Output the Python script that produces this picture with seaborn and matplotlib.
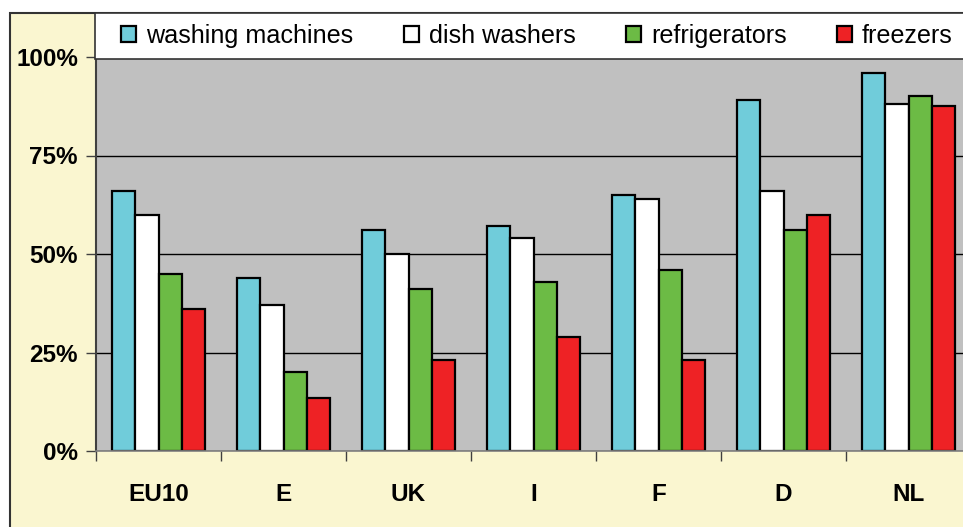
import matplotlib
matplotlib.use("Agg")
import matplotlib.pyplot as plt
import numpy as np
import pandas as pd
import seaborn as sns
from matplotlib.patches import Rectangle
from matplotlib.ticker import FixedLocator, PercentFormatter

countries = ["EU10", "E", "UK", "I", "F", "D", "NL"]
washing_machines = [66, 44, 56, 57, 65, 89, 96]
dish_washers = [60, 37, 50, 54, 64, 66, 88]
refrigerators = [45, 20, 41, 43, 46, 56, 90]
freezers = [36, 13.5, 23, 29, 23, 60, 87.5]
y_ticks = [0, 25, 50, 75, 100]

PALETTE = {
    "washing machines": "#70CCDA",
    "dish washers": "#FFFFFF",
    "refrigerators": "#6CBB45",
    "freezers": "#EE2225",
}

series = {
    "washing machines": washing_machines,
    "dish washers": dish_washers,
    "refrigerators": refrigerators,
    "freezers": freezers,
}
rows = []
for name, vals in series.items():
    for c, v in zip(countries, vals):
        rows.append({"country": c, "appliance": name, "share": v})
df = pd.DataFrame(rows)

sns.set_theme(style="ticks")
plt.rcParams["font.family"] = ["Liberation Sans", "DejaVu Sans"]

W, H = 963, 527
fig = plt.figure(figsize=(W / 100, H / 100), dpi=100, facecolor="white")

# pale yellow chart area with dark frame on left/top
fig.add_artist(Rectangle((10 / W, -0.02), 1.05, (H - 13) / H + 0.02, transform=fig.transFigure,
                         facecolor="#FAF6D0", edgecolor="#333333", linewidth=1.5, zorder=-1))

ax = fig.add_axes([96 / W, (H - 451) / H, 875 / W, 394 / H])
ax.set_facecolor("#C0C0C0")

sns.barplot(data=df, x="country", y="share", hue="appliance", palette=PALETTE, order=countries,
            hue_order=list(series), width=0.74, gap=0, saturation=1, edgecolor="black",
            linewidth=1.6, ax=ax)

ax.set_xlim(-0.5, len(countries) - 0.5)
ax.set_ylim(0, 100)
ax.yaxis.set_major_locator(FixedLocator(y_ticks))
ax.yaxis.set_major_formatter(PercentFormatter(decimals=0))
ax.yaxis.grid(True, color="black", linewidth=1)
ax.set_axisbelow(True)
ax.set_xlabel("")
ax.set_ylabel("")

ax.xaxis.set_minor_locator(FixedLocator(np.arange(-0.5, len(countries), 1)))
ax.tick_params(axis="x", which="major", length=0, pad=23, labelsize=17.5, labelcolor="black")
ax.tick_params(axis="x", which="minor", length=7, width=1, color="#404040", direction="out")
ax.tick_params(axis="y", length=7, width=1, color="#404040", pad=6, labelsize=17.5, labelcolor="black")
for lbl in ax.get_xticklabels() + ax.get_yticklabels():
    lbl.set_fontweight("bold")

for side in ["top", "right"]:
    ax.spines[side].set_visible(False)
ax.spines["left"].set_color("#404040")
ax.spines["left"].set_linewidth(1.5)
ax.spines["bottom"].set_color("#808080")
ax.spines["bottom"].set_linewidth(1.2)

# white legend band across the top
ax.add_patch(Rectangle((95 / W, (H - 59) / H), 1.0, 46 / H, transform=fig.transFigure,
                       facecolor="white", edgecolor="#333333", linewidth=1.2, clip_on=False, zorder=4))
handles, labels = ax.get_legend_handles_labels()
leg = ax.legend(handles, labels, loc="center left", bbox_to_anchor=(121 / W, (H - 36) / H),
                bbox_transform=fig.transFigure, ncol=4, frameon=False, fontsize=18.1,
                handlelength=0.6, handleheight=0.6, handletextpad=0.4, columnspacing=2.0,
                borderpad=0, borderaxespad=0, labelcolor="black")
leg.set_zorder(5)

fig.savefig("out.png", dpi=100)
